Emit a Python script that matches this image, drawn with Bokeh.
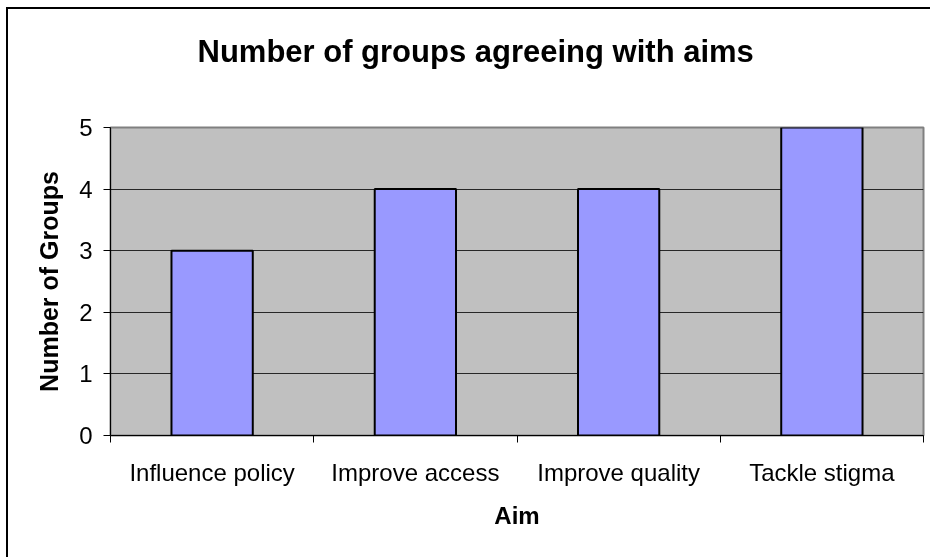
from bokeh.plotting import figure
from bokeh.models import FixedTicker, Range1d, Title
from bokeh.embed import file_html
from bokeh.resources import INLINE

categories = ["Influence policy", "Improve access", "Improve quality", "Tackle stigma"]
values = [3, 4, 4, 5]
y_ticks = [0, 1, 2, 3, 4, 5]
title_text = "Number of groups agreeing with aims"
x_title = "Aim"
y_title = "Number of Groups"

FONT = "Liberation Sans"
n = len(categories)
centers = [i + 0.5 for i in range(n)]

p = figure(width=930, height=560, output_backend="svg", toolbar_location=None,
           x_range=Range1d(0, n), y_range=Range1d(0, max(y_ticks)),
           min_border_left=102, min_border_top=118, min_border_bottom=134, min_border_right=15)
p.styles = {"position": "fixed", "left": "8px", "top": "9px",
            "box-shadow": "-2px -2px 0px 0px black"}
p.background_fill_color = "#C0C0C0"
p.border_fill_color = "white"
p.outline_line_color = "#808080"
p.outline_line_width = 2

p.vbar(x=centers, top=values, width=0.4, bottom=0,
       fill_color="#9999FF", line_color="black", line_width=2)

# spacer between the frame and the title
p.add_layout(Title(text=" ", text_font_size="1px", standoff=51), "above")

# title
p.title.text = title_text
p.title.align = "left"
p.title.offset = 87
p.title.standoff = 10
p.title.text_font = FONT
p.title.text_font_style = "bold"
p.title.text_font_size = "31px"
p.title.text_color = "black"

# x axis
p.xaxis.ticker = FixedTicker(ticks=centers, minor_ticks=list(range(n + 1)))
p.xaxis.major_label_overrides = {c: lab for c, lab in zip(centers, categories)}
p.xaxis.major_tick_out = 0
p.xaxis.major_tick_in = 0
p.xaxis.minor_tick_out = 7
p.xaxis.minor_tick_in = 0
p.xaxis.minor_tick_line_color = "black"
p.xaxis.axis_line_color = "black"
p.xaxis.axis_line_width = 1
p.xaxis.major_label_standoff = 16
p.xaxis.major_label_text_font = FONT
p.xaxis.major_label_text_font_size = "24px"
p.xaxis.major_label_text_color = "black"
p.xaxis.axis_label = x_title
p.xaxis.axis_label_text_font = FONT
p.xaxis.axis_label_text_font_style = "bold"
p.xaxis.axis_label_text_font_size = "24px"
p.xaxis.axis_label_text_color = "black"
p.xaxis.axis_label_standoff = 13

# y axis
p.yaxis.ticker = FixedTicker(ticks=y_ticks)
p.yaxis.major_tick_out = 7
p.yaxis.major_tick_in = 0
p.yaxis.minor_tick_out = 0
p.yaxis.minor_tick_in = 0
p.yaxis.axis_line_color = "black"
p.yaxis.major_label_standoff = 11
p.yaxis.major_label_text_font = FONT
p.yaxis.major_label_text_font_size = "24px"
p.yaxis.major_label_text_color = "black"
p.yaxis.axis_label = y_title
p.yaxis.axis_label_text_font = FONT
p.yaxis.axis_label_text_font_style = "bold"
p.yaxis.axis_label_text_font_size = "25px"
p.yaxis.axis_label_text_color = "black"
p.yaxis.axis_label_standoff = 13

p.xgrid.grid_line_color = None
p.ygrid.grid_line_color = "black"
p.ygrid.grid_line_width = 1
p.ygrid.grid_line_alpha = 0.8

open("out.html", "w").write(file_html(p, INLINE))
